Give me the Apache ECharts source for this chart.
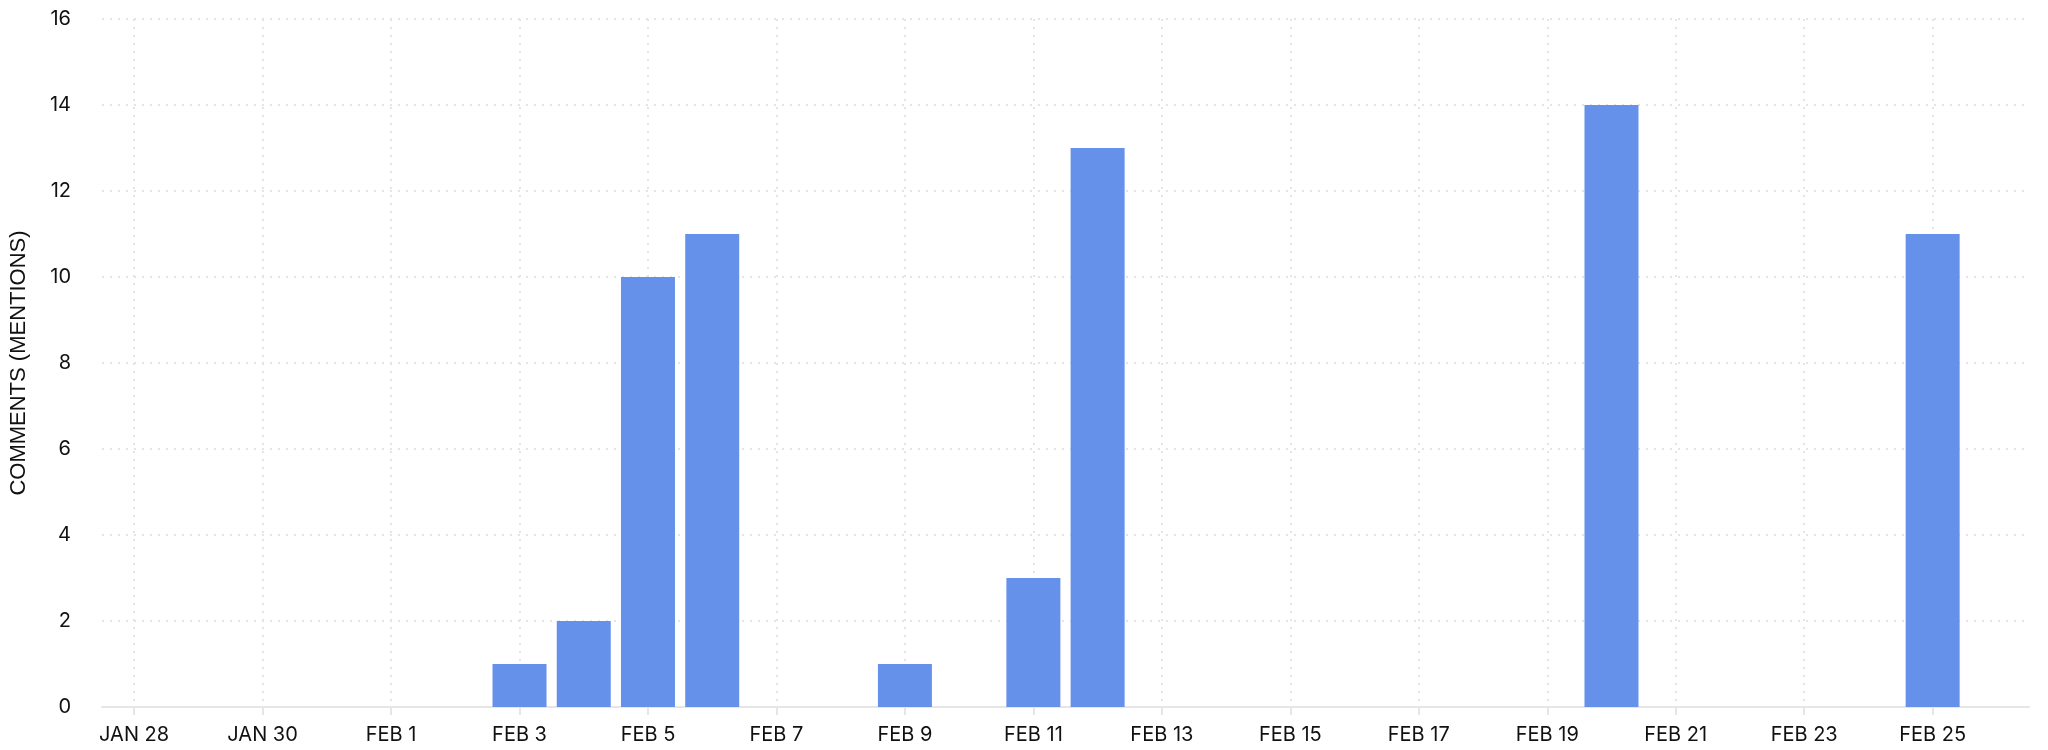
<!DOCTYPE html>
<html>
<head>
<meta charset="utf-8">
<script src="https://cdn.jsdelivr.net/npm/echarts@6/dist/echarts.min.js"></script>
<style>
html,body{margin:0;padding:0;background:#fff;}
#chart{width:2048px;height:750px;}
</style>
</head>
<body>
<div id="chart"></div>
<script>
const categories = ['JAN 28','JAN 29','JAN 30','JAN 31','FEB 1','FEB 2','FEB 3','FEB 4','FEB 5','FEB 6',
  'FEB 7','FEB 8','FEB 9','FEB 10','FEB 11','FEB 12','FEB 13','FEB 14','FEB 15','FEB 16',
  'FEB 17','FEB 18','FEB 19','FEB 20','FEB 21','FEB 22','FEB 23','FEB 24','FEB 25','FEB 26'];
const mentions = [0,0,0,0,0,0,1,2,10,11,
  0,0,1,0,3,13,0,0,0,0,
  0,0,0,14,0,0,0,0,11,0];
const yAxisName = 'COMMENTS (MENTIONS)';
const yMax = 16;
const yStep = 2;

const chart = echarts.init(document.getElementById('chart'));
const gridLine = {color:'#e4e4e4', width:2, type:[2,6]};
chart.setOption({
  animation:false,
  grid:{left:102,right:19,top:19,bottom:43,containLabel:false,outerBoundsMode:'none'},
  xAxis:{
    type:'category',
    data:categories,
    boundaryGap:true,
    axisLine:{show:true,lineStyle:{color:'#e6e6e6',width:2}},
    axisTick:{show:true,interval:1,alignWithLabel:true,length:8,lineStyle:{color:'#e6e6e6',width:2}},
    axisLabel:{interval:1,color:'#111',fontFamily:'Inter',fontSize:20,margin:18},
    splitLine:{show:true,interval:1,alignWithLabel:true,lineStyle:gridLine}
  },
  yAxis:{
    type:'value',
    min:0,max:yMax,interval:yStep,
    name:yAxisName,
    nameLocation:'middle',
    nameGap:72,
    nameTextStyle:{fontFamily:'Liberation Sans',fontSize:22,color:'#111'},
    axisLine:{show:false},
    axisTick:{show:false},
    axisLabel:{color:'#111',fontFamily:'Inter',fontSize:20,margin:31},
    splitLine:{show:true,lineStyle:gridLine}
  },
  series:[{
    type:'bar',
    data:mentions,
    barWidth:54,
    itemStyle:{color:'#6591EB'}
  }]
});
</script>
</body>
</html>
